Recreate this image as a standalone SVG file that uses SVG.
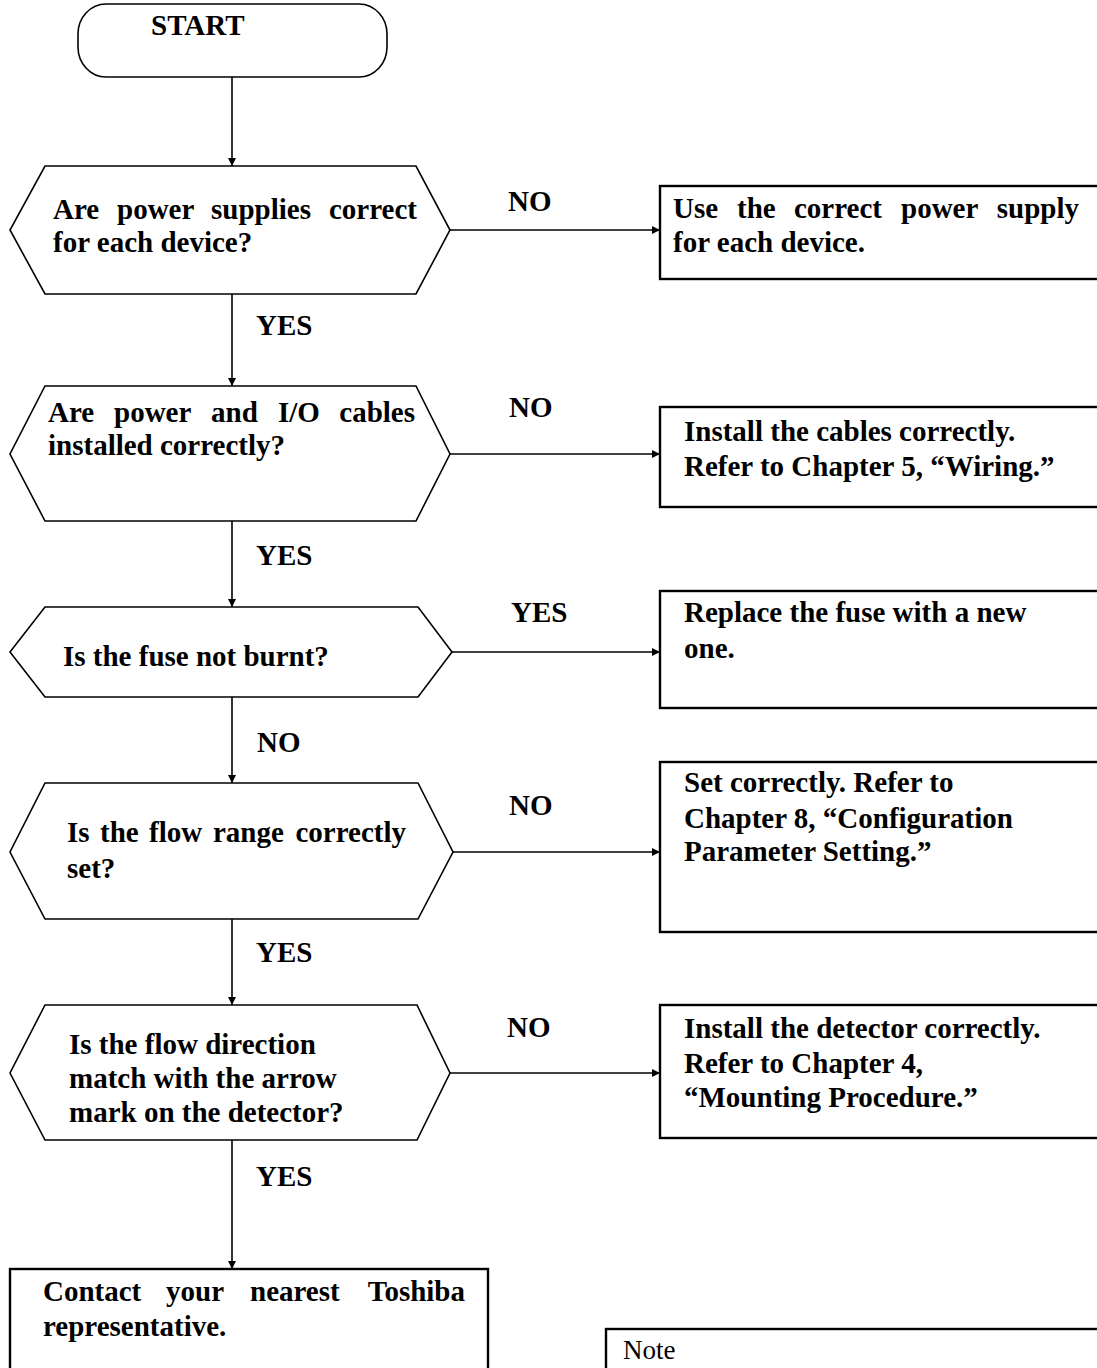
<svg xmlns="http://www.w3.org/2000/svg" width="1097" height="1368" viewBox="0 0 1097 1368">
<style>
.t{font-family:"Liberation Serif","Times New Roman",serif;font-weight:bold;font-size:29px;fill:#000}
.n{font-family:"Liberation Serif","Times New Roman",serif;font-size:27px;fill:#000}
.shape{fill:#fff;stroke:#000;stroke-width:1.6}
.box{fill:#fff;stroke:#000;stroke-width:2.4}
.c{fill:none;stroke:#000;stroke-width:1.6}
</style>
<defs>
<marker id="ah" viewBox="0 0 10 10" refX="10" refY="5" markerWidth="9" markerHeight="8" markerUnits="userSpaceOnUse" orient="auto">
<path d="M0,0 L10,5 L0,10 z" fill="#000"/>
</marker>
</defs>
<rect width="1097" height="1368" fill="#fff"/>
<g id="connectors">
<line class="c" x1="232" y1="77" x2="232" y2="166" marker-end="url(#ah)"/>
<line class="c" x1="232" y1="294" x2="232" y2="386" marker-end="url(#ah)"/>
<line class="c" x1="232" y1="521" x2="232" y2="607" marker-end="url(#ah)"/>
<line class="c" x1="232" y1="697" x2="232" y2="783" marker-end="url(#ah)"/>
<line class="c" x1="232" y1="919" x2="232" y2="1005" marker-end="url(#ah)"/>
<line class="c" x1="232" y1="1140" x2="232" y2="1269" marker-end="url(#ah)"/>
<line class="c" x1="450" y1="230" x2="660" y2="230" marker-end="url(#ah)"/>
<line class="c" x1="450" y1="454" x2="660" y2="454" marker-end="url(#ah)"/>
<line class="c" x1="452" y1="652" x2="660" y2="652" marker-end="url(#ah)"/>
<line class="c" x1="453" y1="852" x2="660" y2="852" marker-end="url(#ah)"/>
<line class="c" x1="450" y1="1073" x2="660" y2="1073" marker-end="url(#ah)"/>
<text class="t" x="508" y="211">NO</text>
<text class="t" x="256" y="335">YES</text>
<text class="t" x="509" y="417">NO</text>
<text class="t" x="256" y="565">YES</text>
<text class="t" x="511" y="622">YES</text>
<text class="t" x="257" y="752">NO</text>
<text class="t" x="509" y="815">NO</text>
<text class="t" x="256" y="962">YES</text>
<text class="t" x="507" y="1037">NO</text>
<text class="t" x="256" y="1186">YES</text>
</g>
<g id="start">
<rect class="shape" x="78" y="4" width="309" height="73" rx="28" ry="30"/>
<text class="t" x="151" y="35">START</text>
</g>
<g id="q1">
<polygon class="shape" points="45,166 416,166 450,230 416,294 45,294 10,230"/>
<text class="t" y="219"><tspan x="53">Are</tspan><tspan x="117">power</tspan><tspan x="211">supplies</tspan><tspan x="417" text-anchor="end">correct</tspan></text>
<text class="t" x="53" y="252">for each device?</text>
</g>
<g id="q2">
<polygon class="shape" points="45,386 416,386 450,454 416,521 45,521 10,454"/>
<text class="t" y="422"><tspan x="48">Are</tspan><tspan x="114">power</tspan><tspan x="211">and</tspan><tspan x="278">I/O</tspan><tspan x="415" text-anchor="end">cables</tspan></text>
<text class="t" x="48" y="455">installed correctly?</text>
</g>
<g id="q3">
<polygon class="shape" points="45,607 418,607 452,652 418,697 45,697 10,652"/>
<text class="t" x="63" y="666">Is the fuse not burnt?</text>
</g>
<g id="q4">
<polygon class="shape" points="45,783 418,783 453,852 418,919 45,919 10,852"/>
<text class="t" y="842"><tspan x="67">Is</tspan><tspan x="100">the</tspan><tspan x="149">flow</tspan><tspan x="213">range</tspan><tspan x="406" text-anchor="end">correctly</tspan></text>
<text class="t" x="67" y="878">set?</text>
</g>
<g id="q5">
<polygon class="shape" points="45,1005 417,1005 450,1073 417,1140 45,1140 10,1073"/>
<text class="t" x="69" y="1054">Is the flow direction</text>
<text class="t" x="69" y="1088">match with the arrow</text>
<text class="t" x="69" y="1122">mark on the detector?</text>
</g>
<g id="a1">
<rect class="box" x="660" y="186" width="460" height="93"/>
<text class="t" y="218"><tspan x="673">Use</tspan><tspan x="737">the</tspan><tspan x="794">correct</tspan><tspan x="901">power</tspan><tspan x="1079" text-anchor="end">supply</tspan></text>
<text class="t" x="673" y="252">for each device.</text>
</g>
<g id="a2">
<rect class="box" x="660" y="407" width="460" height="100"/>
<text class="t" x="684" y="441">Install the cables correctly.</text>
<text class="t" x="684" y="476">Refer to Chapter 5, “Wiring.”</text>
</g>
<g id="a3">
<rect class="box" x="660" y="591" width="460" height="117"/>
<text class="t" x="684" y="622">Replace the fuse with a new</text>
<text class="t" x="684" y="658">one.</text>
</g>
<g id="a4">
<rect class="box" x="660" y="762" width="460" height="170"/>
<text class="t" x="684" y="792">Set correctly. Refer to</text>
<text class="t" x="684" y="828">Chapter 8, “Configuration</text>
<text class="t" x="684" y="861">Parameter Setting.”</text>
</g>
<g id="a5">
<rect class="box" x="660" y="1005" width="460" height="133"/>
<text class="t" x="684" y="1038">Install the detector correctly.</text>
<text class="t" x="684" y="1073">Refer to Chapter 4,</text>
<text class="t" x="684" y="1107">“Mounting Procedure.”</text>
</g>
<g id="contact">
<rect class="box" x="10" y="1269" width="478" height="120"/>
<text class="t" y="1301"><tspan x="43">Contact</tspan><tspan x="166">your</tspan><tspan x="250">nearest</tspan><tspan x="465" text-anchor="end">Toshiba</tspan></text>
<text class="t" x="43" y="1336">representative.</text>
</g>
<g id="note">
<rect class="box" x="606" y="1329" width="520" height="60"/>
<text class="n" x="623" y="1359">Note</text>
</g>
</svg>
